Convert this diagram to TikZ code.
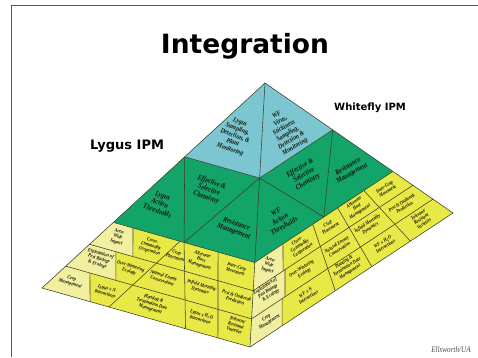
\documentclass[tikz,border=0pt]{standalone}
\usepackage{fontspec}
\newfontfamily\cellfont{Liberation Serif}[FakeStretch=0.84,
  BoldFont={Liberation Serif Bold}, ItalicFont={Liberation Serif Italic},
  BoldItalicFont={Liberation Serif Bold Italic}]
\newfontfamily\headfont{DejaVu Sans}
\usetikzlibrary{calc}

\definecolor{pyrblue}{RGB}{124,198,210}
\definecolor{pyrgreen}{RGB}{18,164,104}
\definecolor{pyryellow}{RGB}{232,232,70}
\definecolor{pyrlight}{RGB}{242,240,160}
\definecolor{pyrline}{RGB}{60,62,40}
\definecolor{pyrtext}{RGB}{20,24,14}

\tikzset{
  seam/.style={draw=pyrline, line width=0.55pt, line join=round},
  cell/.style={font=\cellfont\bfseries\itshape\fontsize{5.2}{5.5}\selectfont,
    align=center, inner sep=0pt, text=pyrtext},
  lcell/.style={cell, rotate=-17},
  rcell/.style={cell, rotate=33},
  tier/.style={font=\cellfont\bfseries\itshape\fontsize{7.6}{8}\selectfont,
    align=center, inner sep=0pt, text=pyrtext},
  ltier/.style={tier, rotate=-20},
  rtier/.style={tier, rotate=30},
  peak/.style={font=\cellfont\bfseries\itshape\fontsize{7}{7.3}\selectfont},
  ipm/.style={font=\headfont\bfseries\fontsize{#1}{#1}\selectfont, inner sep=0pt}
}

\begin{document}
\begin{tikzpicture}[x=1pt, y=-1pt]

\useasboundingbox (0,0) rectangle (478,357);
\draw[black!65, line width=0.7pt] (11,357) -- (11,5) -- (478,5);

% pyramid corners, tier levels and yellow row lines
\coordinate (A) at (265,83);
\coordinate (L) at (42,288);
\coordinate (F) at (250,347);
\coordinate (R) at (453,213);
\foreach \p in {L,F,R}
{
	\coordinate (\p1) at ($(A)!.36!(\p)$);
	\coordinate (\p2) at ($(A)!.68!(\p)$);
	\coordinate (\p3) at ($(A)!.7867!(\p)$);
	\coordinate (\p4) at ($(A)!.8933!(\p)$);
}
\coordinate (P) at ($(L2)!.5!(F2)$);
\coordinate (Q) at ($(F2)!.5!(R2)$);

\fill[pyryellow] (L2) -- (L) -- (F) -- (R) -- (R2) -- (F2) -- cycle;
\fill[pyrgreen] (L1) -- (L2) -- (F2) -- (R2) -- (R1) -- (F1) -- cycle;
\fill[pyrblue] (A) -- (L1) -- (F1) -- (R1) -- cycle;

% light cells next to the left edge and the front edge
\foreach \ta/\tb/\ka/\ba/\bb/\kb in {L2/F2/.139/L3/F3/.265, L3/F3/.161/L4/F4/.27,
	L4/F4/.13/L/F/.231, F2/R2/.204/F3/R3/.187, F3/R3/.199/F4/R4/.184, F4/R4/.168/F/R/.158}
{
	\fill[pyrlight] (\ta) -- ($(\ta)!\ka!(\tb)$) -- ($(\ba)!\kb!(\bb)$) -- (\ba) -- cycle;
	\draw[seam] ($(\ta)!\ka!(\tb)$) -- ($(\ba)!\kb!(\bb)$);
}

\draw[seam] (L3) -- (F3) -- (R3);
\draw[seam] (L4) -- (F4) -- (R4);
\draw[seam] ($(L2)!.471!(F2)$) -- ($(L)!.322!(F)$);
\draw[seam] (P) -- ($(L)!.69!(F)$);
\draw[seam] ($(L2)!.74!(F2)$) -- ($(L)!.846!(F)$);
\foreach \k in {.42,.6,.79}
	\draw[seam] ($(F2)!\k!(R2)$) -- ($(F)!\k!(R)$);

\draw[seam] (L1) -- (P) -- (F1) -- (Q) -- (R1);
\draw[seam] (L1) -- (F1) -- (R1);
\draw[seam] (L2) -- (F2) -- (R2);
\draw[seam] (A) -- (F);
\draw[seam] (A) -- (L) -- (F) -- (R) -- cycle;

% top and middle tiers
\node[ltier, peak] (sampleL) at (235,136) {Lygus\\Sampling,\\Detection, \&\\Plant\\Monitoring};
\node[rtier, peak] (sampleR) at (286,131) {WF\\Virus,\\Stickiness\\Sampling,\\Detection \&\\Monitoring};
\node[ltier] (threshL) at (160,203) {Lygus\\Action\\Thresholds};
\node[ltier] (chemL) at (209,190) {Effective \&\\Selective\\Chemistry};
\node[ltier] (resistL) at (235,228) {Resistance\\Management};
\node[rtier] (chemR) at (304,175) {Effective \&\\Selective\\Chemistry};
\node[rtier] (threshR) at (280,219) {WF\\Action\\Thresholds};
\node[rtier] (resistR) at (350,170) {Resistance\\Management};

% base tier, Lygus side
\node[lcell] (areaL) at (118,237) {Area-\\Wide\\Impact};
\node[lcell] (crossL) at (151,246) {Cross-\\Commodity\\Cooperation};
\node[lcell] (placeL) at (176,255) {Crop\\Placement};
\node[lcell] (hostL) at (201,260) {Alternate\\Host\\Management};
\node[lcell] (interL) at (236,269) {Inter-Crop\\Movement};
\node[lcell] (exploitL) at (99,259) {Exploitation of\\Pest Biology\\\& Ecology};
\node[lcell] (winterL) at (130,269) {Over-Wintering\\Ecology};
\node[lcell] (enemyL) at (163,278) {Natural Enemy\\Conservation};
\node[lcell] (mortL) at (201,288) {Infield Mortality\\Dynamics};
\node[lcell] (pestL) at (236,298) {Pest \& Outbreak\\Prediction};
\node[lcell] (manageL) at (71,281) {Crop\\Management};
\node[lcell] (nitroL) at (106,291) {Lygus x N\\Interactions};
\node[lcell] (plantL) at (152,304) {Planting \&\\Termination Date\\Management};
\node[lcell] (waterL) at (201,317) {Lygus x H\textsubscript{2}O\\Interactions};
\node[lcell] (tolerL) at (236,325) {Tolerant/\\Resistant\\Varieties};

% base tier, whitefly side
\node[lcell] (areaR) at (269,265) {Area-\\Wide\\Impact};
\node[rcell] (crossR) at (300,246) {Cross-\\Commodity\\Cooperation};
\node[rcell] (placeR) at (329,226) {Crop\\Placement};
\node[rcell] (hostR) at (357,207) {Alternate\\Host\\Management};
\node[rcell] (interR) at (386,189) {Inter-Crop\\Movement};
\node[rcell] (exploitR) at (268,291) {Exploitation of\\Pest Biology\\\& Ecology};
\node[rcell] (winterR) at (303,271) {Over-Wintering\\Ecology};
\node[rcell] (enemyR) at (338,247) {Natural Enemy\\Conservation};
\node[rcell] (mortR) at (369,226) {Infield Mortality\\Dynamics};
\node[rcell] (pestR) at (403,205) {Pest \& Outbreak\\Prediction};
\node[rcell] (manageR) at (268,320) {Crop\\Management};
\node[rcell] (nitroR) at (307,295) {WF x N\\Interactions};
\node[rcell] (plantR) at (347,267) {Planting \&\\Termination Date\\Management};
\node[rcell] (waterR) at (384,244) {WF x H\textsubscript{2}O\\Interactions};
\node[rcell] (tolerR) at (421,219) {Tolerant/\\Resistant\\Varieties};

% headings
\node[ipm=26.5] (title) at (245,46) {Integration};
\node[ipm=13] (lygus) at (127,146) {Lygus IPM};
\node[ipm=10] (whitefly) at (370,108) {Whitefly IPM};
\node[font=\cellfont\itshape\fontsize{8.5}{9}\selectfont, text=black!70, inner sep=0pt] (credit) at (451,350) {Ellsworth/UA};

\end{tikzpicture}
\end{document}
